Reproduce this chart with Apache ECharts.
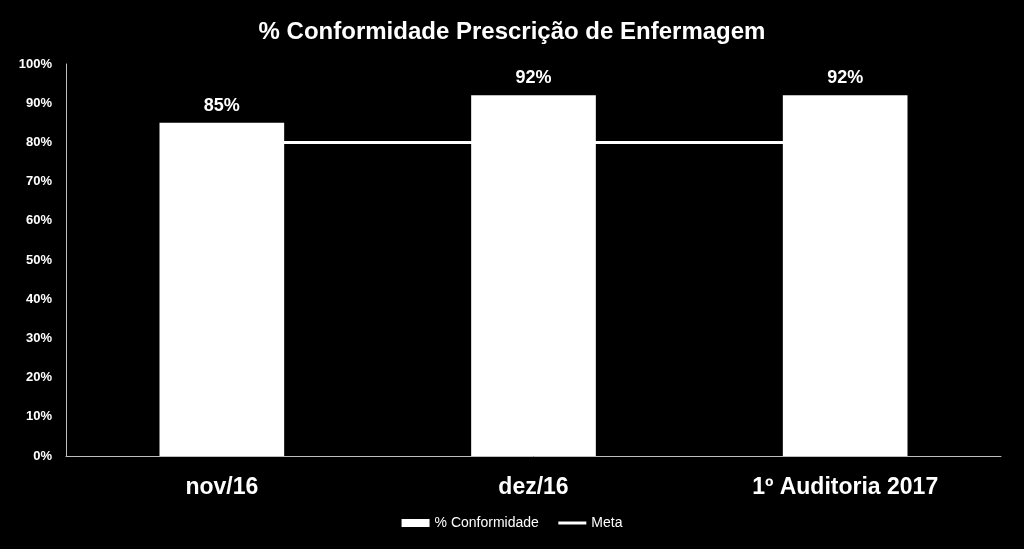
<!DOCTYPE html>
<html>
<head>
<meta charset="utf-8">
<script src="https://cdn.jsdelivr.net/npm/echarts@6/dist/echarts.min.js"></script>
<style>
  html, body { margin: 0; padding: 0; background: #000; }
  #chart { width: 1024px; height: 549px; }
</style>
</head>
<body>
<div id="chart"></div>
<script>
var categories = ["nov/16", "dez/16", "1º Auditoria 2017"];
var conformidade = [85, 92, 92];
var meta = [80, 80, 80];

var myChart = echarts.init(document.getElementById("chart"));

var option = {
  backgroundColor: "#000",
  textStyle: { fontFamily: "Liberation Sans, Arial, sans-serif" },
  title: {
    text: "% Conformidade Prescrição de Enfermagem",
    left: "center",
    top: 15,
    textStyle: { color: "#fff", fontSize: 24, fontWeight: "bold" }
  },
  legend: {
    bottom: 14,
    left: "center",
    itemGap: 18,
    itemWidth: 28,
    itemHeight: 8,
    textStyle: { color: "#fff", fontSize: 14 },
    data: [
      { name: "% Conformidade", icon: "rect" },
      { name: "Meta", itemStyle: { opacity: 0 }, lineStyle: { color: "#fff", width: 3 } }
    ]
  },
  grid: { left: 66, right: 23, top: 64, bottom: 93 },
  xAxis: {
    type: "category",
    data: categories,
    axisLine: { lineStyle: { color: "#bfbfbf", width: 1 } },
    axisTick: { show: false },
    axisLabel: { color: "#fff", fontSize: 23, fontWeight: "bold", margin: 20 }
  },
  yAxis: {
    type: "value",
    min: 0,
    max: 100,
    interval: 10,
    axisLine: { show: true, lineStyle: { color: "#bfbfbf", width: 1 } },
    axisTick: { show: false },
    splitLine: { show: false },
    axisLabel: {
      color: "#fff",
      fontSize: 13,
      fontWeight: "bold",
      margin: 14,
      formatter: "{value}%"
    }
  },
  series: [
    {
      name: "Meta",
      type: "line",
      data: meta,
      symbol: "none",
      z: 1,
      lineStyle: { color: "#fff", width: 3 },
      itemStyle: { color: "#fff" }
    },
    {
      name: "% Conformidade",
      type: "bar",
      data: conformidade,
      barWidth: "40%",
      z: 2,
      itemStyle: { color: "#fff" },
      label: {
        show: true,
        position: "top",
        distance: 8,
        color: "#fff",
        fontSize: 18,
        fontWeight: "bold",
        formatter: "{c}%"
      }
    }
  ]
};

myChart.setOption(option);
</script>
</body>
</html>
